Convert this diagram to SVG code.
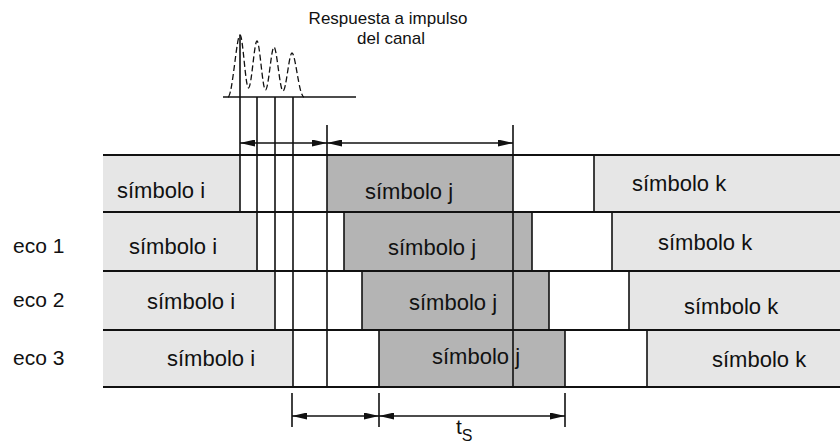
<svg xmlns="http://www.w3.org/2000/svg" width="840" height="443" viewBox="0 0 840 443">
<style>
  .lt { fill: #e6e6e6; }
  .dk { fill: #b4b4b4; }
  .ln { stroke: #111; stroke-width: 1.6; fill: none; }
  .hl { stroke: #111; stroke-width: 2; fill: none; }
  .lbl { font-family: "Liberation Sans", Arial, sans-serif; font-size: 22px; fill: #111; }
  .eco { font-family: "Liberation Sans", Arial, sans-serif; font-size: 21px; fill: #111; }
  .ttl { font-family: "Liberation Sans", Arial, sans-serif; font-size: 17px; fill: #111; text-anchor: middle; }
  .arr { stroke: #111; stroke-width: 1.5; fill: none; marker-start: url(#ah); marker-end: url(#ah); }
  .imp { stroke: #111; stroke-width: 1.3; fill: none; stroke-dasharray: 6 3; }
</style>
<defs>
  <marker id="ah" viewBox="0 0 15 7" refX="15" refY="3.5" markerWidth="15" markerHeight="7" markerUnits="userSpaceOnUse" orient="auto-start-reverse">
    <path d="M0,0 L15,3.5 L0,7 Z" fill="#111"/>
  </marker>
</defs>
<rect width="840" height="443" fill="#fff"/>

<g id="impulse">
  <text class="ttl" x="388" y="24">Respuesta a impulso</text>
  <text class="ttl" x="391" y="44">del canal</text>
  <path class="imp" d="M228,97 C232.5,97 236.5,35 240,35 C243,35 245.4,88 248.5,88 C251.6,88 254.2,41 257,41 C259.8,41 262.4,90 265.5,90 C268.6,90 271.2,47 274,47 C276.8,47 279.8,91 283,91 C286.2,91 289,53 292,53 C295.5,53 299,97 304,97"/>
  <line class="ln" x1="223" y1="97" x2="356" y2="97"/>
</g>

<g id="row1">
  <g id="r1-i"><rect class="lt" x="103" y="155" width="137" height="57"/><text class="lbl" x="117" y="198">símbolo i</text></g>
  <g id="r1-j"><rect class="dk" x="327" y="155" width="186" height="57"/><text class="lbl" x="365" y="199">símbolo j</text></g>
  <g id="r1-k"><rect class="lt" x="594" y="155" width="247" height="57"/><text class="lbl" x="632" y="191">símbolo k</text></g>
</g>
<g id="row2">
  <text class="eco" x="13" y="253">eco 1</text>
  <g id="r2-i"><rect class="lt" x="103" y="212" width="155" height="59"/><text class="lbl" x="129" y="254">símbolo i</text></g>
  <g id="r2-j"><rect class="dk" x="344" y="212" width="188" height="59"/><text class="lbl" x="388" y="255">símbolo j</text></g>
  <g id="r2-k"><rect class="lt" x="612" y="212" width="229" height="59"/><text class="lbl" x="658" y="250">símbolo k</text></g>
</g>
<g id="row3">
  <text class="eco" x="13" y="307">eco 2</text>
  <g id="r3-i"><rect class="lt" x="103" y="271" width="172" height="59"/><text class="lbl" x="147" y="309">símbolo i</text></g>
  <g id="r3-j"><rect class="dk" x="362" y="271" width="187" height="59"/><text class="lbl" x="409" y="310">símbolo j</text></g>
  <g id="r3-k"><rect class="lt" x="629" y="271" width="212" height="59"/><text class="lbl" x="684" y="314">símbolo k</text></g>
</g>
<g id="row4">
  <text class="eco" x="13" y="365">eco 3</text>
  <g id="r4-i"><rect class="lt" x="103" y="330" width="190" height="57"/><text class="lbl" x="167" y="366">símbolo i</text></g>
  <g id="r4-j"><rect class="dk" x="379" y="330" width="186" height="57"/><text class="lbl" x="432" y="364">símbolo j</text></g>
  <g id="r4-k"><rect class="lt" x="647" y="330" width="194" height="57"/><text class="lbl" x="712" y="367">símbolo k</text></g>
</g>

<g id="connectors">
  <line class="hl" x1="103" y1="155" x2="840" y2="155"/>
  <line class="hl" x1="103" y1="212" x2="840" y2="212"/>
  <line class="hl" x1="103" y1="271" x2="840" y2="271"/>
  <line class="hl" x1="103" y1="330" x2="840" y2="330"/>
  <line class="hl" x1="103" y1="387" x2="840" y2="387"/>
  <line class="ln" x1="240" y1="35" x2="240" y2="212"/>
  <line class="ln" x1="257" y1="97" x2="257" y2="271"/>
  <line class="ln" x1="275" y1="97" x2="275" y2="330"/>
  <line class="ln" x1="293" y1="97" x2="293" y2="387"/>
  <line class="ln" x1="327" y1="125" x2="327" y2="387"/>
  <line class="ln" x1="513" y1="125" x2="513" y2="387"/>
  <line class="ln" x1="594" y1="155" x2="594" y2="212"/>
  <line class="ln" x1="344" y1="212" x2="344" y2="271"/>
  <line class="ln" x1="532" y1="212" x2="532" y2="271"/>
  <line class="ln" x1="612" y1="212" x2="612" y2="271"/>
  <line class="ln" x1="362" y1="271" x2="362" y2="330"/>
  <line class="ln" x1="549" y1="271" x2="549" y2="330"/>
  <line class="ln" x1="629" y1="271" x2="629" y2="330"/>
  <line class="ln" x1="379" y1="330" x2="379" y2="387"/>
  <line class="ln" x1="565" y1="330" x2="565" y2="387"/>
  <line class="ln" x1="647" y1="330" x2="647" y2="387"/>
  <line class="arr" x1="240" y1="143" x2="327" y2="143"/>
  <line class="arr" x1="327" y1="143" x2="513" y2="143"/>
  <line class="ln" x1="292" y1="393" x2="292" y2="427"/>
  <line class="ln" x1="379" y1="393" x2="379" y2="427"/>
  <line class="ln" x1="565" y1="393" x2="565" y2="427"/>
  <line class="arr" x1="292" y1="416" x2="379" y2="416"/>
  <line class="arr" x1="379" y1="416" x2="565" y2="416"/>
</g>
<text class="eco" x="456" y="434">t<tspan font-size="16" dy="7">S</tspan></text>
</svg>
